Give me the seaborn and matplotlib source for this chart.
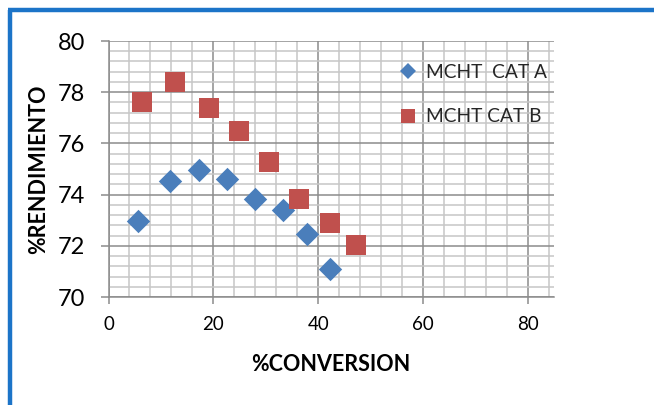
import matplotlib
matplotlib.use("Agg")
import matplotlib.pyplot as plt
import seaborn as sns
import pandas as pd
import numpy as np
from matplotlib.lines import Line2D
from matplotlib.ticker import MultipleLocator

# ---- data ----
series_names = ["MCHT  CAT A", "MCHT CAT B"]
conv_a = [5.6, 11.7, 17.3, 22.7, 28.0, 33.2, 37.9, 42.3]
rend_a = [72.97, 74.52, 74.95, 74.59, 73.82, 73.39, 72.48, 71.08]
conv_b = [6.4, 12.7, 19.1, 24.9, 30.7, 36.4, 42.2, 47.3]
rend_b = [77.63, 78.41, 77.37, 76.49, 75.29, 73.81, 72.91, 72.03]
x_ticks = [0, 20, 40, 60, 80]
y_ticks = [70, 72, 74, 76, 78, 80]

df = pd.DataFrame({
    "conv": conv_a + conv_b,
    "rend": rend_a + rend_b,
    "serie": [series_names[0]] * len(conv_a) + [series_names[1]] * len(conv_b),
})

sns.set_theme(style="white")
plt.rcParams["font.family"] = ["Lato", "DejaVu Sans"]

blue = "#4A7EBB"
red = "#C0504D"

fig = plt.figure(figsize=(6.54, 4.05), dpi=100)
ax = fig.add_axes([108.5 / 654, 1 - 297 / 405, (554 - 108.5) / 654, (297 - 41) / 405])

# grid
ax.set_xlim(0, 85)
ax.set_ylim(70, 80)
ax.set_xticks(x_ticks)
ax.set_yticks(y_ticks)
ax.xaxis.set_minor_locator(MultipleLocator(4))
ax.yaxis.set_minor_locator(MultipleLocator(0.4))
ax.grid(which="minor", color="#c6c6c6", lw=1.1, zorder=0)
ax.grid(which="major", color="#8c8c8c", lw=1.1, zorder=0)
ax.set_axisbelow(True)

sub_a = df[df.serie == series_names[0]]
sub_b = df[df.serie == series_names[1]]
sns.scatterplot(data=sub_a, x="conv", y="rend", marker="D", s=142, color=blue,
                edgecolor=blue, linewidth=0, ax=ax, legend=False, zorder=3)
sns.scatterplot(data=sub_b, x="conv", y="rend", marker="s", s=222, color=red,
                edgecolor=red, linewidth=0, ax=ax, legend=False, zorder=3)

for s in ["top", "right"]:
    ax.spines[s].set_visible(False)
for s in ["left", "bottom"]:
    ax.spines[s].set_color("#8c8c8c")
    ax.spines[s].set_linewidth(1.1)

ax.tick_params(axis="y", which="major", direction="out", length=6, width=1.1,
               color="#8c8c8c", labelsize=17, pad=11, left=True, labelcolor="black")
ax.tick_params(axis="x", which="major", direction="out", length=5, width=1.1,
               color="#8c8c8c", labelsize=13.5, pad=9, bottom=True, labelcolor="black")
ax.tick_params(which="minor", length=0)

ax.set_xlabel("%CONVERSION", fontsize=15.5, fontweight="bold", color="black", labelpad=15)
ax.set_ylabel("%RENDIMIENTO", fontsize=15.5, fontweight="bold", color="black", labelpad=6)

handles = [
    Line2D([], [], marker="D", ls="", color=blue, markersize=8.3, markeredgewidth=0),
    Line2D([], [], marker="s", ls="", color=red, markersize=9.4, markeredgewidth=0),
]
leg = ax.legend(handles, series_names, loc="upper left",
                bbox_to_anchor=(398.7 / 654, 1 - 64 / 405), bbox_transform=fig.transFigure,
                frameon=False, fontsize=13.8, borderpad=0, borderaxespad=0,
                handlelength=1.0, handletextpad=0.4, labelspacing=1.42)

# blue frame
fig.add_artist(Line2D([10 / 654, 10 / 654], [1 - 10 / 405, 0], transform=fig.transFigure,
                      color="#1C74C8", lw=3.2, solid_capstyle="butt"))
fig.add_artist(Line2D([8 / 654, 1], [1 - 10 / 405, 1 - 10 / 405], transform=fig.transFigure,
                      color="#1C74C8", lw=3.2, solid_capstyle="butt"))

fig.savefig("out.png", dpi=100)
